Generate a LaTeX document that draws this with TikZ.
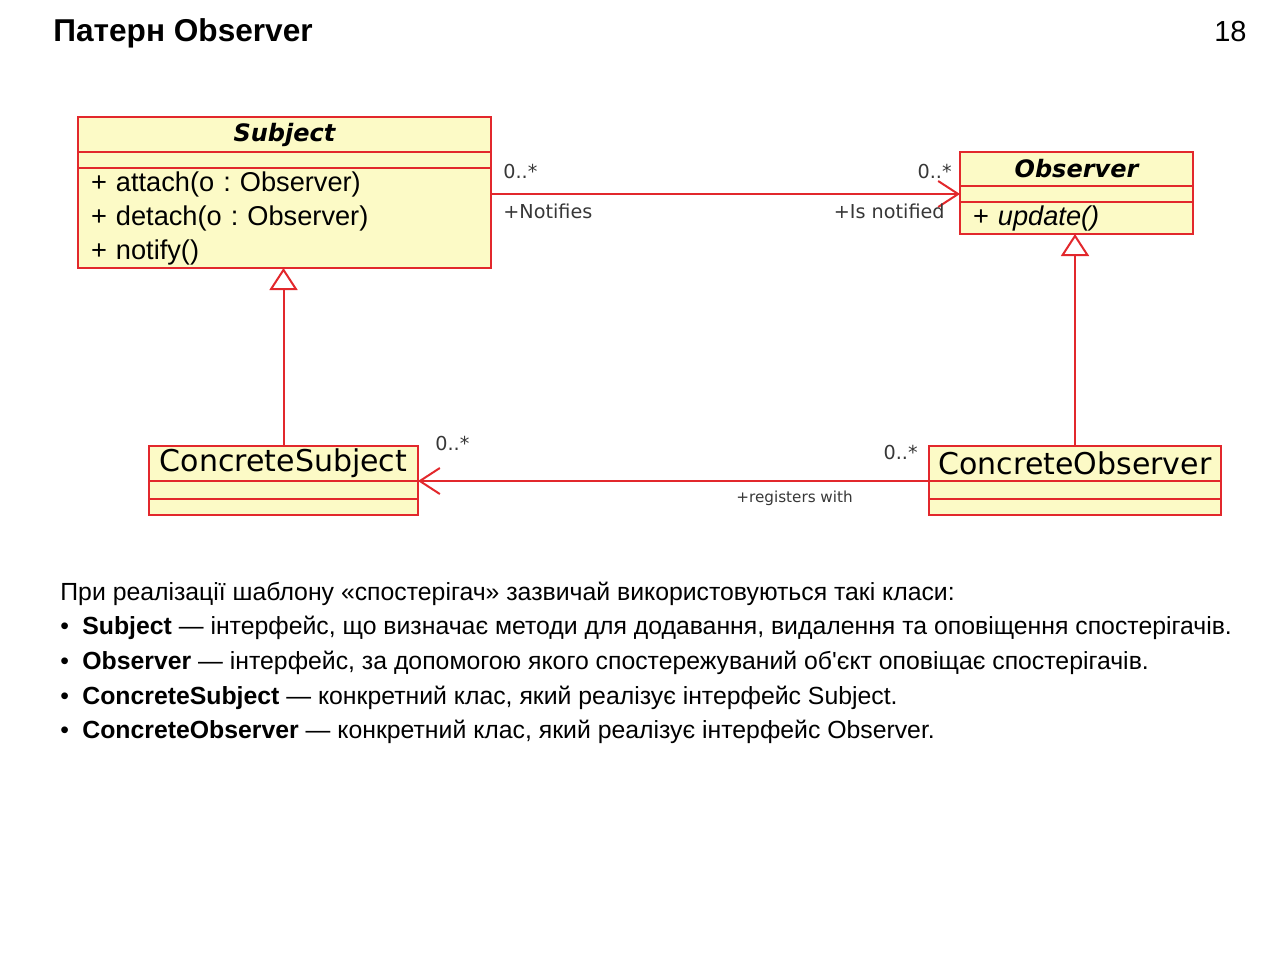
\documentclass[tikz,border=0pt]{standalone}
\usepackage{fontspec}
\setmainfont{Liberation Sans}
\newfontfamily\umlfont{DejaVu Sans}
\usetikzlibrary{arrows.meta,positioning}
\definecolor{umlred}{RGB}{226,40,44}
\definecolor{umlfill}{RGB}{252,250,198}
\definecolor{labelgray}{RGB}{55,55,55}
\tikzset{
  compart/.style={draw=umlred, fill=umlfill, line width=1pt, inner sep=0pt, outer sep=0pt},
  classname/.style={font=\umlfont\fontsize{15}{17}\selectfont},
  abstractname/.style={font=\umlfont\bfseries\itshape\fontsize{12}{14}\selectfont},
  methods/.style={font=\fontsize{13.6}{17}\selectfont, align=left, inner xsep=6.5pt},
  mult/.style={font=\umlfont\fontsize{9.6}{11}\selectfont, text=labelgray, inner sep=0pt},
  assoc/.style={draw=umlred, line width=1pt, -{Straight Barb[length=10pt,width=13pt]}},
  inherit/.style={draw=umlred, line width=1pt, -{Triangle[open,length=11pt,width=14pt]}},
  desc/.style={font=\fontsize{12.4}{14}\selectfont, inner sep=0pt, anchor=base west}
}
\newcommand{\bul}{\makebox[11pt][l]{•}}
\frenchspacing
\begin{document}
\begin{tikzpicture}[x=0.5pt, y=-0.5pt]
				\useasboundingbox (0,0) rectangle (1280,955);
				
				% title
				\node[font=\bfseries\fontsize{15.8}{18}\selectfont, anchor=base west, inner sep=0pt] (title) at (53,41) {Патерн Observer};
				\node[font=\fontsize{14.5}{17}\selectfont, anchor=base east, inner sep=0pt] (pagenum) at (1247,41) {18};
				
				% Subject
				\node[compart, abstractname, anchor=north west, minimum width=206.5pt, minimum height=17.5pt] (subjHead) at (78,117) {Subject};
				\node[compart, below=0pt of subjHead, minimum width=206.5pt, minimum height=8pt] (subjAttr) {};
				\node[compart, methods, below=0pt of subjAttr, text width=193.5pt, minimum height=50pt] (subjMeth) {+ attach(o : Observer)\\+ detach(o : Observer)\\+ notify()};
				
				% Observer
				\node[compart, abstractname, anchor=north west, minimum width=116.5pt, minimum height=17pt] (obsHead) at (960,152) {Observer};
				\node[compart, below=0pt of obsHead, minimum width=116.5pt, minimum height=8pt] (obsAttr) {};
				\node[compart, methods, below=0pt of obsAttr, text width=103.5pt, minimum height=16pt] (obsMeth) {+ \textit{update()}};
				
				% ConcreteSubject
				\node[compart, classname, anchor=north west, minimum width=134.5pt, minimum height=17.5pt] (csHead) at (149,446) {ConcreteSubject};
				\node[compart, below=0pt of csHead, minimum width=134.5pt, minimum height=9pt] (csAttr) {};
				\node[compart, below=0pt of csAttr, minimum width=134.5pt, minimum height=8pt] (csMeth) {};
				
				% ConcreteObserver
				\node[compart, classname, anchor=north west, minimum width=146pt, minimum height=17.5pt] (coHead) at (929,446) {ConcreteObserver};
				\node[compart, below=0pt of coHead, minimum width=146pt, minimum height=9pt] (coAttr) {};
				\node[compart, below=0pt of coAttr, minimum width=146pt, minimum height=8pt] (coMeth) {};
				
				% connectors
				\draw[assoc] (obsAttr.west -| subjMeth.east) -- (obsAttr.west);
				\draw[assoc] (coHead.south west) -- (csHead.south east);
				\draw[inherit] (csHead.north) -- (csHead.north |- subjMeth.south);
				\draw[inherit] (coHead.north) -- (coHead.north |- obsMeth.south);
				
				% role and multiplicity labels
				\node[mult, anchor=base west] (m1) at (503,178) {0..*};
				\node[mult, anchor=base west] (r1) at (503,218) {+Notifies};
				\node[mult, anchor=base east] (m2) at (952,178) {0..*};
				\node[mult, anchor=base east] (r2) at (945,218) {+Is notified};
				\node[mult, anchor=base west] (m3) at (435,450) {0..*};
				\node[mult, anchor=base east] (m4) at (918,459) {0..*};
				\node[mult, anchor=base west, font=\umlfont\fontsize{7.6}{9}\selectfont] (r3) at (736,502) {+registers with};
				
				% description
				\node[desc] (desc1) at (60,600) {При реалізації шаблону «спостерігач» зазвичай використовуються такі класи:};
				\node[desc] (desc2) at (60,634) {\bul\textbf{Subject} — інтерфейс, що визначає методи для додавання, видалення та оповіщення спостерігачів.};
				\node[desc] (desc3) at (60,669) {\bul\textbf{Observer} — інтерфейс, за допомогою якого спостережуваний об\textquotesingle єкт оповіщає спостерігачів.};
				\node[desc] (desc4) at (60,704) {\bul\textbf{ConcreteSubject} — конкретний клас, який реалізує інтерфейс Subject.};
				\node[desc] (desc5) at (60,738) {\bul\textbf{ConcreteObserver} — конкретний клас, який реалізує інтерфейс Observer.};
			\end{tikzpicture}
\end{document}
